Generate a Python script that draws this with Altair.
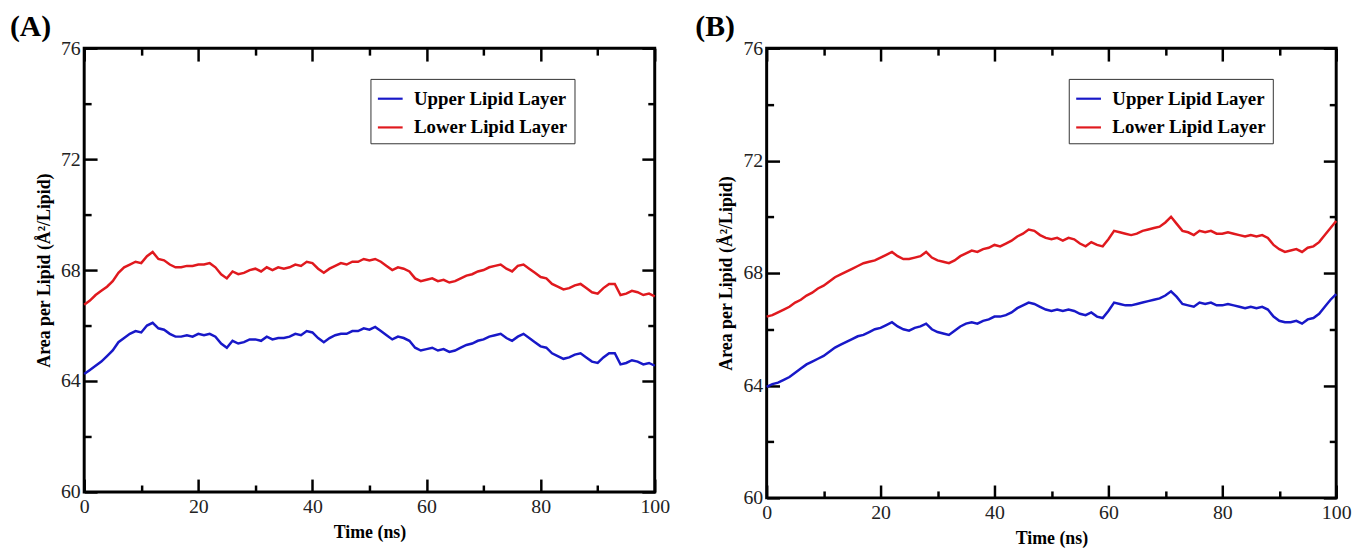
import altair as alt
import pandas as pd

# ---------------- data ----------------
time_ns = list(range(0, 101))

series_names = ["Upper Lipid Layer", "Lower Lipid Layer"]
series_colors = ["#1818c8", "#e0191e"]

a_upper = [64.25, 64.4, 64.55, 64.7, 64.9, 65.1, 65.4, 65.55, 65.7, 65.8,
           65.75, 66.0, 66.1, 65.9, 65.85, 65.7, 65.6, 65.6, 65.65, 65.6,
           65.7, 65.65, 65.7, 65.6, 65.35, 65.2, 65.45, 65.35, 65.4, 65.5,
           65.5, 65.45, 65.6, 65.5, 65.55, 65.55, 65.6, 65.7, 65.65, 65.8,
           65.75, 65.55, 65.4, 65.55, 65.65, 65.7, 65.7, 65.8, 65.8, 65.9,
           65.85, 65.95, 65.8, 65.65, 65.5, 65.6, 65.55, 65.45, 65.2, 65.1,
           65.15, 65.2, 65.1, 65.15, 65.05, 65.1, 65.2, 65.3, 65.35, 65.45,
           65.5, 65.6, 65.65, 65.7, 65.55, 65.45, 65.6, 65.7, 65.55, 65.4,
           65.25, 65.2, 65.0, 64.9, 64.8, 64.85, 64.95, 65.0, 64.85, 64.7,
           64.65, 64.85, 65.0, 65.0, 64.6, 64.65, 64.75, 64.7, 64.6, 64.65,
           64.55]

a_lower = [66.75, 66.9, 67.1, 67.25, 67.4, 67.6, 67.9, 68.1, 68.2, 68.3,
           68.25, 68.5, 68.65, 68.4, 68.35, 68.2, 68.1, 68.1, 68.15, 68.15,
           68.2, 68.2, 68.25, 68.1, 67.85, 67.7, 67.95, 67.85, 67.9, 68.0,
           68.05, 67.95, 68.1, 68.0, 68.1, 68.05, 68.1, 68.2, 68.15, 68.3,
           68.25, 68.05, 67.9, 68.05, 68.15, 68.25, 68.2, 68.3, 68.3, 68.4,
           68.35, 68.4, 68.3, 68.15, 68.0, 68.1, 68.05, 67.95, 67.7, 67.6,
           67.65, 67.7, 67.6, 67.65, 67.55, 67.6, 67.7, 67.8, 67.85, 67.95,
           68.0, 68.1, 68.15, 68.2, 68.05, 67.95, 68.15, 68.2, 68.05, 67.9,
           67.75, 67.7, 67.5, 67.4, 67.3, 67.35, 67.45, 67.5, 67.35, 67.2,
           67.15, 67.35, 67.5, 67.5, 67.1, 67.15, 67.25, 67.2, 67.1, 67.15,
           67.05]

b_upper = [63.95, 64.05, 64.1, 64.2, 64.3, 64.45, 64.6, 64.75, 64.85, 64.95,
           65.05, 65.2, 65.35, 65.45, 65.55, 65.65, 65.75, 65.8, 65.9, 66.0,
           66.05, 66.15, 66.25, 66.1, 66.0, 65.95, 66.05, 66.1, 66.2, 66.0,
           65.9, 65.85, 65.8, 65.95, 66.1, 66.2, 66.25, 66.2, 66.3, 66.35,
           66.45, 66.45, 66.5, 66.6, 66.75, 66.85, 66.95, 66.9, 66.8, 66.7,
           66.65, 66.7, 66.65, 66.7, 66.65, 66.55, 66.5, 66.6, 66.45, 66.4,
           66.65, 66.95, 66.9, 66.85, 66.85, 66.9, 66.95, 67.0, 67.05, 67.1,
           67.2, 67.35, 67.15, 66.9, 66.85, 66.8, 66.95, 66.9, 66.95, 66.85,
           66.85, 66.9, 66.85, 66.8, 66.75, 66.8, 66.75, 66.8, 66.7, 66.45,
           66.3, 66.25, 66.25, 66.3, 66.2, 66.35, 66.4, 66.55, 66.8, 67.05,
           67.25]

b_lower = [66.45, 66.5, 66.6, 66.7, 66.8, 66.95, 67.05, 67.2, 67.3, 67.45,
           67.55, 67.7, 67.85, 67.95, 68.05, 68.15, 68.25, 68.35, 68.4, 68.45,
           68.55, 68.65, 68.75, 68.6, 68.5, 68.5, 68.55, 68.6, 68.75, 68.55,
           68.45, 68.4, 68.35, 68.45, 68.6, 68.7, 68.8, 68.75, 68.85, 68.9,
           69.0, 68.95, 69.05, 69.15, 69.3, 69.4, 69.55, 69.5, 69.35, 69.25,
           69.2, 69.25, 69.15, 69.25, 69.2, 69.05, 68.95, 69.1, 69.0, 68.95,
           69.2, 69.5, 69.45, 69.4, 69.35, 69.4, 69.5, 69.55, 69.6, 69.65,
           69.8, 70.0, 69.75, 69.5, 69.45, 69.35, 69.5, 69.45, 69.5, 69.4,
           69.4, 69.45, 69.4, 69.35, 69.3, 69.35, 69.3, 69.35, 69.25, 69.0,
           68.85, 68.75, 68.8, 68.85, 68.75, 68.9, 68.95, 69.1, 69.35, 69.6,
           69.85]

x_domain = [0, 100]
y_domain = [60, 76]
x_label_values = [0, 20, 40, 60, 80, 100]
x_minor_values = [10, 30, 50, 70, 90]
y_label_values = [60, 64, 68, 72, 76]
y_minor_values = [62, 66, 70, 74]

FONT = "Liberation Serif"
X_TITLE = "Time (ns)"
Y_TITLE = "Area per Lipid (Å²/Lipid)"
MAJOR = 13
MINOR = 7


def x_scale():
    return alt.Scale(domain=x_domain, nice=False, zero=False)


def y_scale():
    return alt.Scale(domain=y_domain, nice=False, zero=False)


def inner_tick_axis(orient, values, length):
    # an axis moved inside the frame by its own tick length, so its ticks point inward
    return alt.Axis(orient=orient, values=values, tickSize=length, offset=-length,
                    ticks=True, tickWidth=2.5, tickColor="black", tickOpacity=1,
                    labels=False, domain=False, grid=False, title=None)


def panel(upper, lower, label, w, h, lx, ly, title_dx, title_offset):
    df = pd.DataFrame({
        "t": time_ns + time_ns,
        "v": upper + lower,
        "s": [series_names[0]] * len(upper) + [series_names[1]] * len(lower),
    })
    line = alt.Chart(df).mark_line(strokeWidth=2.5).encode(
        x=alt.X("t:Q", scale=x_scale(), title=X_TITLE,
                axis=alt.Axis(orient="bottom", values=x_label_values, labelPadding=5,
                              titlePadding=7, labelFlush=False,
                              ticks=True, tickSize=MAJOR, offset=-MAJOR, tickWidth=2.5,
                              tickColor="black", tickOpacity=1)),
        y=alt.Y("v:Q", scale=y_scale(), title=Y_TITLE,
                axis=alt.Axis(orient="left", values=y_label_values, labelPadding=4,
                              titlePadding=7, labelFlush=False,
                              ticks=True, tickSize=MAJOR, offset=-MAJOR, tickWidth=2.5,
                              tickColor="black", tickOpacity=1)),
        color=alt.Color("s:N",
                        scale=alt.Scale(domain=series_names, range=series_colors),
                        legend=alt.Legend(title=None, orient="none", legendX=lx, legendY=ly)),
    )
    layers = [line]
    base = alt.Chart(df).mark_line(strokeOpacity=0)
    extra_x = [("bottom", x_minor_values, MINOR), ("top", x_label_values, MAJOR),
               ("top", x_minor_values, MINOR)]
    extra_y = [("left", y_minor_values, MINOR), ("right", y_label_values, MAJOR),
               ("right", y_minor_values, MINOR)]
    for orient, vals, length in extra_x:
        layers.append(base.encode(
            x=alt.X("t:Q", scale=x_scale(), axis=inner_tick_axis(orient, vals, length)),
            y=alt.Y("v:Q", scale=y_scale(), axis=None),
            detail="s:N",
        ))
    for orient, vals, length in extra_y:
        layers.append(base.encode(
            x=alt.X("t:Q", scale=x_scale(), axis=None),
            y=alt.Y("v:Q", scale=y_scale(), axis=inner_tick_axis(orient, vals, length)),
            detail="s:N",
        ))
    return alt.layer(*layers).resolve_axis(x="independent", y="independent").properties(
        width=w, height=h,
        title=alt.TitleParams(label, anchor="start", frame="group", dx=title_dx,
                              offset=title_offset),
    )


pa = panel(a_upper, a_lower, "(A)", 576, 448, 289, 31, -75, -4)
pb = panel(b_upper, b_lower, "(B)", 575, 454, 305, 31, -72, -4)

chart = alt.hconcat(pa, pb, spacing=22).resolve_scale(color="independent").properties(
    padding={"left": 8, "top": 8, "right": 5, "bottom": 2}
).configure_view(
    stroke="black", strokeWidth=3
).configure_axis(
    domain=False, grid=False,
    labelFont=FONT, labelFontSize=20, labelColor="#222",
    titleFont=FONT, titleFontSize=18, titleFontWeight="bold", titleColor="black",
).configure_title(
    font=FONT, fontSize=30, fontWeight="bold", color="black",
).configure_legend(
    symbolType="stroke", symbolSize=625, symbolStrokeWidth=2.2,
    labelFont=FONT, labelFontSize=19, labelFontWeight="bold", labelColor="black",
    labelOffset=10, rowPadding=5, padding=6,
    strokeColor="#333", fillColor="white", cornerRadius=0,
)

chart.save("out.html", embed_options={"renderer": "svg", "actions": False})
